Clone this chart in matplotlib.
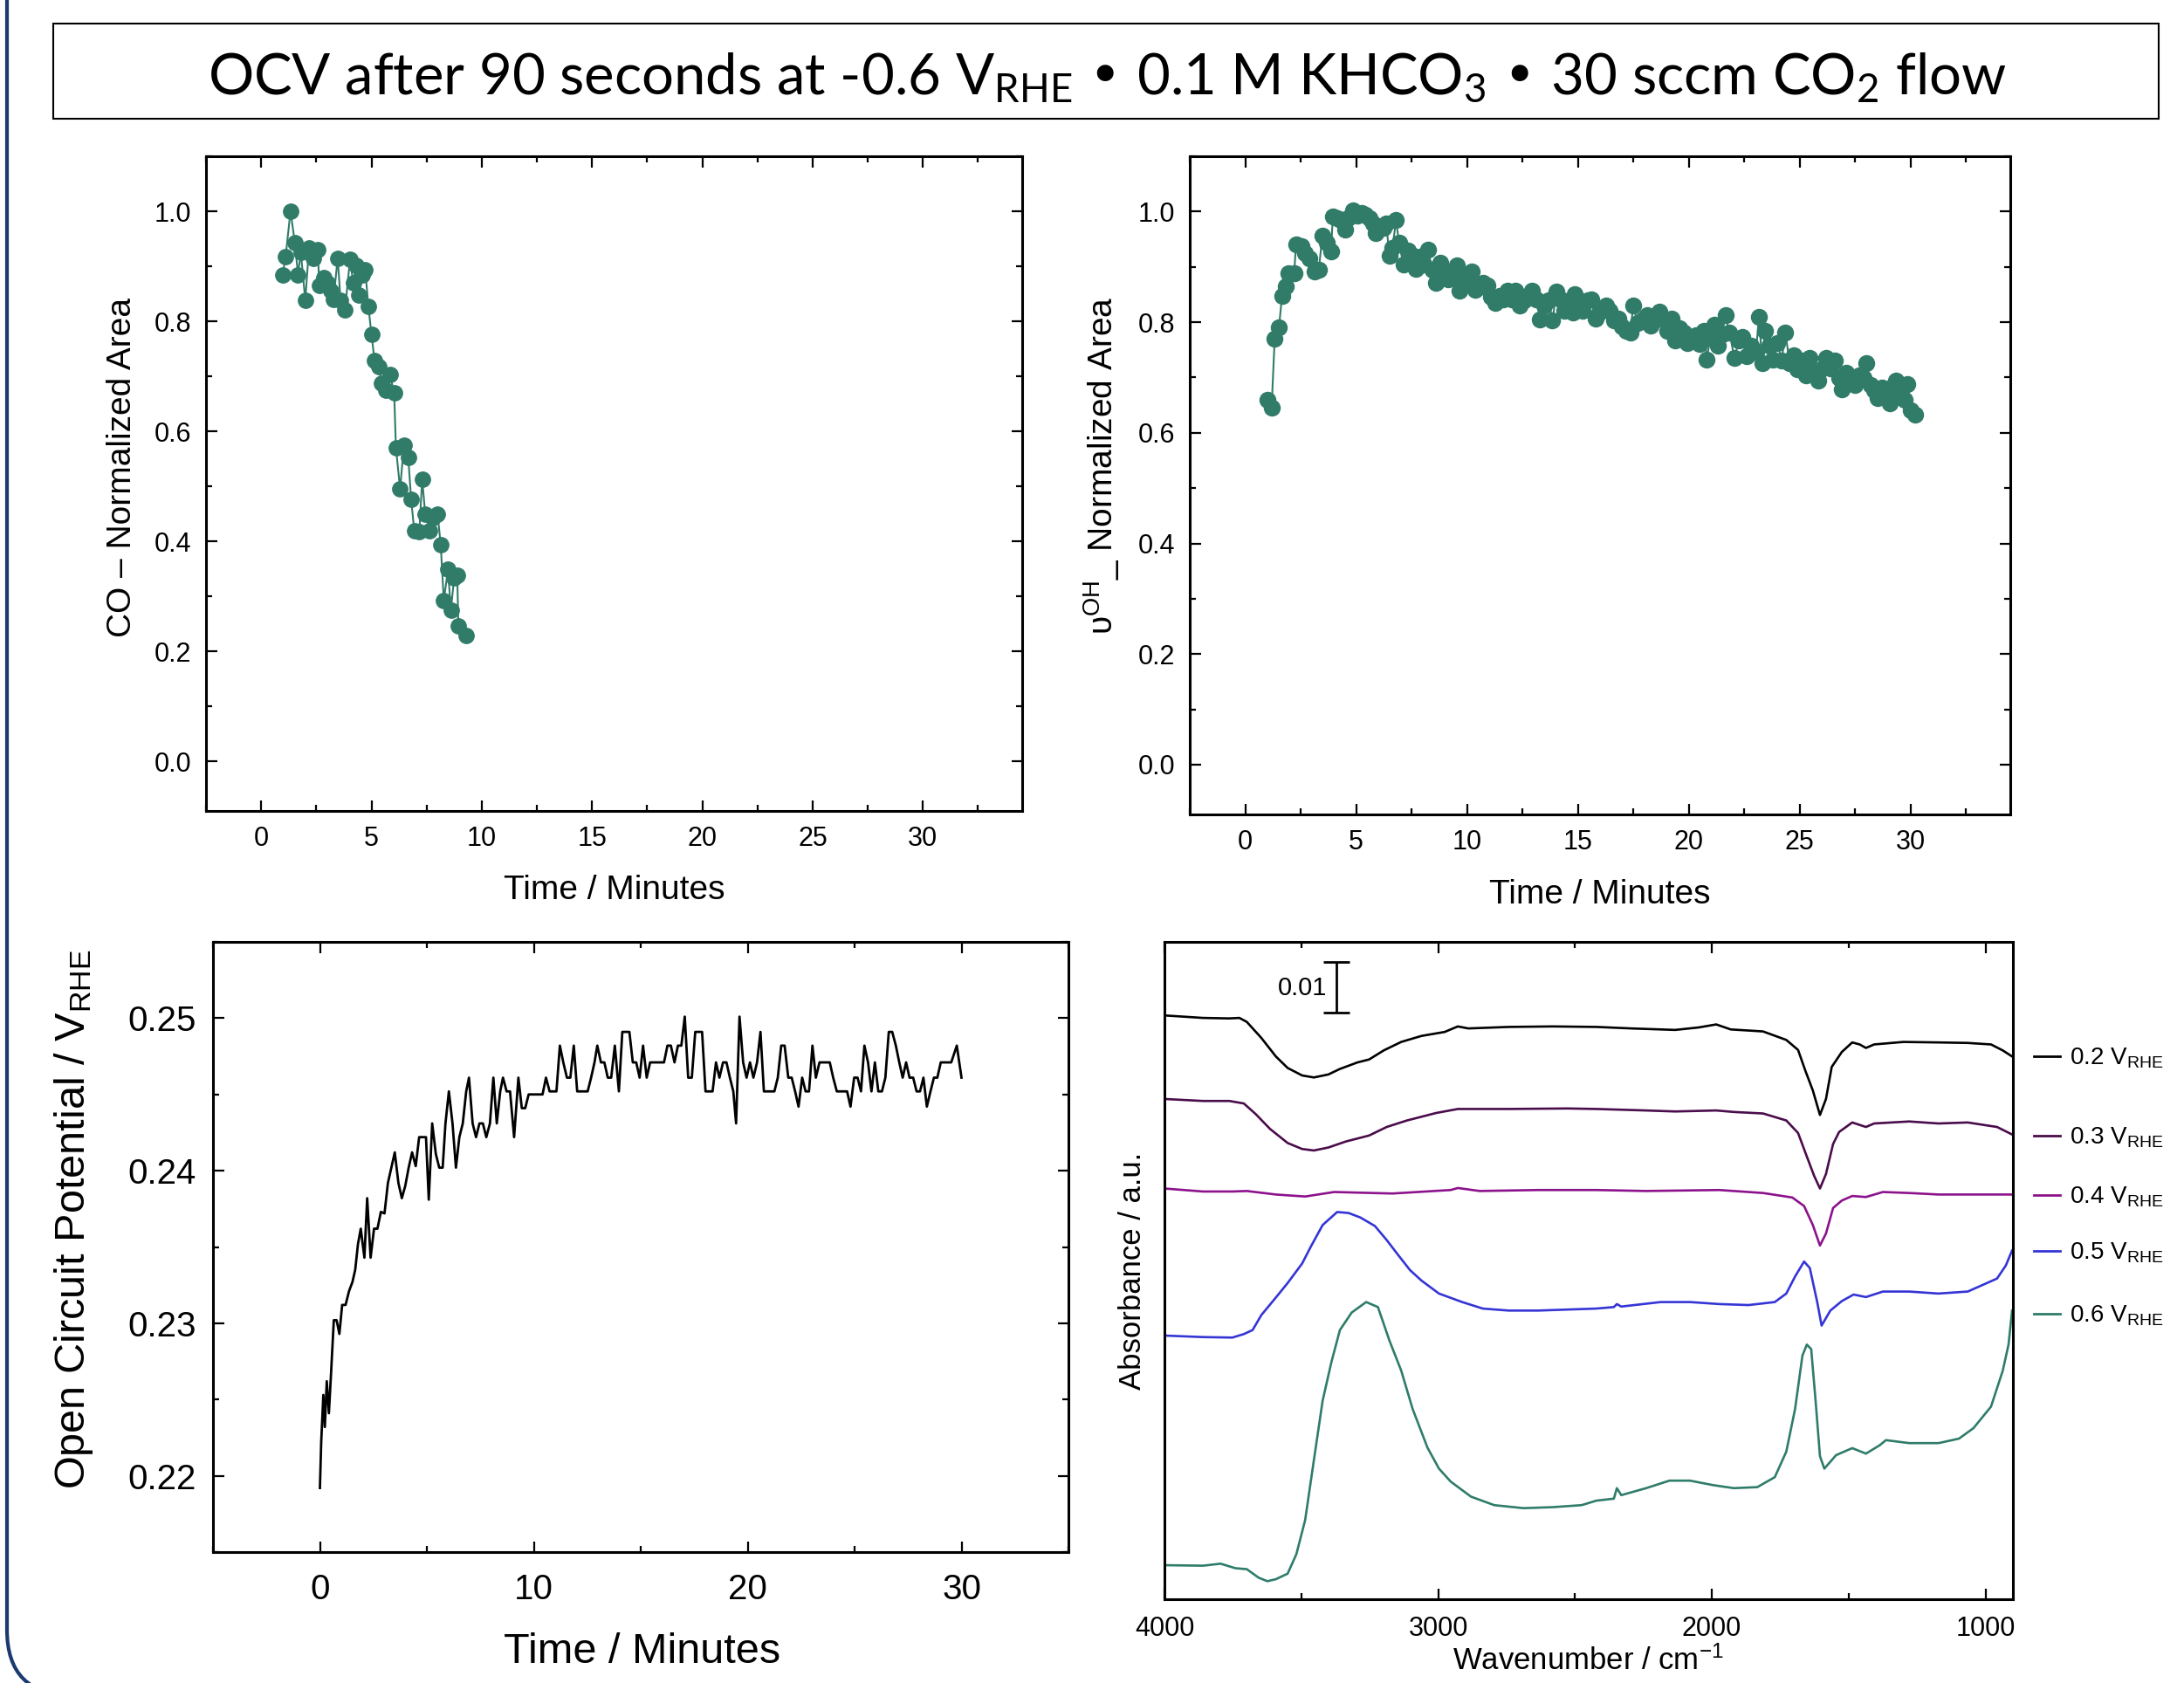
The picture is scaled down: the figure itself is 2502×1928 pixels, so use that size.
import matplotlib
matplotlib.use("Agg")
from matplotlib import pyplot as plt
from matplotlib.patches import Rectangle, FancyBboxPatch
from matplotlib.lines import Line2D
from matplotlib.ticker import MultipleLocator, FormatStrFormatter

plt.rcParams['font.family'] = 'Liberation Sans'
plt.rcParams['mathtext.default'] = 'regular'

# CO band area (top left)
co_time = [0.97, 1.11, 1.33, 1.53, 1.67, 1.80, 2.00, 2.17, 2.36, 2.56, 2.64, 2.83, 3.00, 3.14, 3.28,
           3.47, 3.60, 3.80, 4.03, 4.17, 4.30, 4.44, 4.58, 4.72, 4.86, 5.00, 5.14, 5.33, 5.47, 5.64,
           5.83, 6.03, 6.11, 6.30, 6.47, 6.67, 6.80, 6.94, 7.17, 7.30, 7.44, 7.64, 7.78, 8.00, 8.14,
           8.28, 8.47, 8.60, 8.75, 8.89, 8.94, 9.30]
co_area = [0.884, 0.918, 1.000, 0.943, 0.885, 0.925, 0.838, 0.934, 0.915, 0.931, 0.865, 0.880, 0.870, 0.856, 0.840,
           0.915, 0.838, 0.820, 0.913, 0.870, 0.902, 0.847, 0.884, 0.893, 0.827, 0.777, 0.729, 0.718, 0.688, 0.674,
           0.704, 0.670, 0.570, 0.495, 0.575, 0.552, 0.476, 0.420, 0.418, 0.513, 0.449, 0.420, 0.443, 0.449, 0.394,
           0.293, 0.349, 0.275, 0.334, 0.338, 0.247, 0.229]

# OH band area (top right)
oh_time = [1.00, 1.19, 1.33, 1.52, 1.66, 1.82, 1.96, 2.21, 2.29, 2.52,
           2.71, 2.90, 3.12, 3.32, 3.48, 3.68, 3.87, 3.95, 4.17, 4.31,
           4.51, 4.64, 4.87, 5.06, 5.25, 5.42, 5.61, 5.75, 5.89, 6.03,
           6.22, 6.36, 6.50, 6.64, 6.80, 6.94, 7.13, 7.33, 7.49, 7.69,
           7.88, 8.04, 8.24, 8.43, 8.60, 8.79, 8.99, 9.15, 9.35, 9.54,
           9.68, 9.84, 10.04, 10.23, 10.37, 10.53, 10.73, 10.92, 11.09, 11.28,
           11.47, 11.64, 11.83, 12.03, 12.19, 12.39, 12.58, 12.75, 12.94, 13.13,
           13.30, 13.49, 13.69, 13.85, 14.04, 14.24, 14.40, 14.60, 14.79, 14.87,
           15.07, 15.23, 15.43, 15.62, 15.79, 15.98, 16.26, 16.45, 16.62, 16.81,
           17.00, 17.17, 17.36, 17.50, 17.69, 17.92, 18.11, 18.28, 18.47, 18.66,
           18.83, 19.02, 19.21, 19.38, 19.57, 19.77, 19.93, 20.13, 20.32, 20.49,
           20.68, 20.82, 20.96, 21.15, 21.32, 21.51, 21.65, 21.84, 22.06, 22.26,
           22.42, 22.62, 22.81, 23.03, 23.17, 23.31, 23.44, 23.64, 23.80, 24.00,
           24.19, 24.36, 24.55, 24.74, 24.91, 25.10, 25.30, 25.46, 25.65, 25.85,
           26.02, 26.21, 26.40, 26.57, 26.77, 26.90, 27.10, 27.32, 27.51, 27.68,
           27.87, 28.01, 28.20, 28.37, 28.50, 28.70, 28.89, 29.06, 29.25, 29.33,
           29.53, 29.72, 29.86, 30.00, 30.22]
oh_area = [0.660, 0.645, 0.770, 0.790, 0.847, 0.865, 0.889, 0.889, 0.941, 0.938,
           0.925, 0.916, 0.891, 0.895, 0.957, 0.943, 0.928, 0.991, 0.988, 0.984,
           0.967, 0.988, 1.002, 0.993, 0.997, 0.995, 0.988, 0.979, 0.961, 0.972,
           0.970, 0.979, 0.920, 0.934, 0.984, 0.943, 0.904, 0.930, 0.921, 0.897,
           0.918, 0.904, 0.931, 0.895, 0.871, 0.907, 0.891, 0.877, 0.884, 0.902,
           0.857, 0.880, 0.871, 0.891, 0.859, 0.864, 0.871, 0.866, 0.846, 0.835,
           0.848, 0.841, 0.857, 0.841, 0.857, 0.830, 0.839, 0.848, 0.857, 0.841,
           0.805, 0.830, 0.839, 0.803, 0.855, 0.841, 0.821, 0.835, 0.817, 0.850,
           0.835, 0.821, 0.839, 0.841, 0.807, 0.817, 0.830, 0.821, 0.803, 0.807,
           0.792, 0.785, 0.781, 0.830, 0.798, 0.805, 0.812, 0.794, 0.810, 0.819,
           0.805, 0.785, 0.807, 0.767, 0.789, 0.781, 0.762, 0.771, 0.776, 0.760,
           0.785, 0.733, 0.771, 0.795, 0.758, 0.778, 0.812, 0.781, 0.735, 0.767,
           0.774, 0.738, 0.758, 0.747, 0.810, 0.726, 0.785, 0.758, 0.733, 0.762,
           0.731, 0.781, 0.726, 0.740, 0.715, 0.731, 0.704, 0.735, 0.708, 0.695,
           0.717, 0.735, 0.717, 0.731, 0.699, 0.678, 0.708, 0.695, 0.686, 0.704,
           0.699, 0.726, 0.686, 0.677, 0.663, 0.681, 0.668, 0.654, 0.686, 0.695,
           0.672, 0.659, 0.688, 0.640, 0.633]

# open circuit potential (bottom left)
ocp_time = [0.00, 0.06, 0.16, 0.23, 0.32, 0.42, 0.52, 0.65, 0.78, 0.91,
            1.04, 1.20, 1.36, 1.52, 1.65, 1.78, 1.91, 2.08, 2.21, 2.37,
            2.53, 2.69, 2.85, 3.02, 3.18, 3.34, 3.50, 3.67, 3.83, 3.99,
            4.15, 4.31, 4.48, 4.64, 4.80, 4.96, 5.09, 5.25, 5.42, 5.58,
            5.74, 5.87, 6.03, 6.20, 6.36, 6.52, 6.68, 6.84, 6.97, 7.14,
            7.30, 7.46, 7.62, 7.78, 7.95, 8.11, 8.27, 8.43, 8.56, 8.73,
            8.89, 9.08, 9.28, 9.44, 9.60, 9.76, 9.92, 10.09, 10.25, 10.41,
            10.57, 10.74, 10.90, 11.06, 11.22, 11.38, 11.55, 11.71, 11.87, 12.03,
            12.20, 12.36, 12.52, 12.68, 12.84, 12.97, 13.14, 13.30, 13.46, 13.62,
            13.79, 13.98, 14.14, 14.30, 14.47, 14.63, 14.79, 14.95, 15.11, 15.28,
            15.44, 15.60, 15.76, 15.93, 16.09, 16.25, 16.41, 16.58, 16.74, 16.90,
            17.06, 17.22, 17.39, 17.55, 17.71, 17.87, 18.03, 18.20, 18.36, 18.52,
            18.68, 18.85, 19.01, 19.17, 19.33, 19.46, 19.62, 19.79, 19.95, 20.11,
            20.27, 20.44, 20.60, 20.76, 20.92, 21.08, 21.25, 21.41, 21.57, 21.73,
            21.90, 22.06, 22.22, 22.38, 22.55, 22.71, 22.87, 23.03, 23.19, 23.36,
            23.52, 23.68, 23.84, 24.00, 24.17, 24.33, 24.49, 24.65, 24.81, 24.98,
            25.14, 25.30, 25.46, 25.63, 25.79, 25.95, 26.11, 26.28, 26.44, 26.60,
            26.76, 26.93, 27.09, 27.25, 27.41, 27.57, 27.74, 27.90, 28.06, 28.22,
            28.38, 28.55, 28.71, 28.87, 29.03, 29.20, 29.36, 29.52, 29.78, 30.00]
ocp_volt = [0.2192, 0.2222, 0.2253, 0.2232, 0.2262, 0.2241, 0.2267, 0.2302, 0.2302, 0.2293,
            0.2312, 0.2312, 0.2321, 0.2327, 0.2335, 0.2352, 0.2362, 0.2343, 0.2382, 0.2343,
            0.2362, 0.2362, 0.2373, 0.2372, 0.2392, 0.2402, 0.2412, 0.2392, 0.2382, 0.2390,
            0.2402, 0.2412, 0.2403, 0.2422, 0.2422, 0.2422, 0.2381, 0.2431, 0.2411, 0.2402,
            0.2402, 0.2431, 0.2452, 0.2431, 0.2402, 0.2422, 0.2431, 0.2452, 0.2461, 0.2431,
            0.2422, 0.2431, 0.2431, 0.2422, 0.2431, 0.2461, 0.2431, 0.2452, 0.2461, 0.2452,
            0.2452, 0.2422, 0.2461, 0.2441, 0.2441, 0.2450, 0.2450, 0.2450, 0.2450, 0.2450,
            0.2461, 0.2452, 0.2452, 0.2452, 0.2482, 0.2471, 0.2461, 0.2461, 0.2482, 0.2452,
            0.2452, 0.2452, 0.2452, 0.2461, 0.2471, 0.2482, 0.2471, 0.2471, 0.2461, 0.2461,
            0.2482, 0.2452, 0.2491, 0.2491, 0.2491, 0.2471, 0.2471, 0.2461, 0.2482, 0.2461,
            0.2471, 0.2471, 0.2471, 0.2471, 0.2471, 0.2482, 0.2482, 0.2471, 0.2482, 0.2482,
            0.2501, 0.2461, 0.2461, 0.2491, 0.2491, 0.2491, 0.2452, 0.2452, 0.2452, 0.2471,
            0.2461, 0.2471, 0.2471, 0.2461, 0.2452, 0.2431, 0.2501, 0.2471, 0.2461, 0.2471,
            0.2461, 0.2471, 0.2491, 0.2452, 0.2452, 0.2452, 0.2452, 0.2461, 0.2482, 0.2482,
            0.2461, 0.2461, 0.2452, 0.2442, 0.2461, 0.2452, 0.2452, 0.2482, 0.2461, 0.2471,
            0.2471, 0.2471, 0.2471, 0.2461, 0.2452, 0.2452, 0.2452, 0.2452, 0.2442, 0.2461,
            0.2461, 0.2452, 0.2482, 0.2471, 0.2452, 0.2471, 0.2452, 0.2452, 0.2461, 0.2491,
            0.2491, 0.2482, 0.2471, 0.2461, 0.2471, 0.2461, 0.2461, 0.2452, 0.2452, 0.2461,
            0.2442, 0.2452, 0.2461, 0.2461, 0.2471, 0.2471, 0.2471, 0.2471, 0.2482, 0.2461]

# IR spectra (bottom right), stacked absorbance
wn_02 = [4000, 3859, 3763, 3726, 3699, 3646, 3593, 3550, 3497, 3454, 3401, 3359, 3295, 3252, 3199, 3135,
         3061, 2976, 2928, 2890, 2742, 2582, 2422, 2294, 2134, 2048, 1984, 1931, 1813, 1728, 1685, 1658,
         1631, 1605, 1583, 1562, 1546, 1525, 1487, 1460, 1437, 1407, 1300, 1172, 1065, 980, 937, 903]
abs_02 = [0.1167, 0.1162, 0.1161, 0.1162, 0.1154, 0.1122, 0.1085, 0.1062, 0.1047, 0.1043, 0.1049, 0.1060,
          0.1073, 0.1079, 0.1097, 0.1114, 0.1126, 0.1134, 0.1145, 0.1141, 0.1144, 0.1145, 0.1144, 0.1141,
          0.1138, 0.1143, 0.1149, 0.1139, 0.1135, 0.1118, 0.1098, 0.1056, 0.1017, 0.0968, 0.1000, 0.1064,
          0.1077, 0.1094, 0.1113, 0.1109, 0.1102, 0.1109, 0.1114, 0.1113, 0.1112, 0.1109, 0.1097, 0.1085]

wn_03 = [4000, 3859, 3763, 3710, 3667, 3614, 3550, 3497, 3454, 3401, 3337, 3252, 3188, 3114, 3007, 2928,
         2742, 2529, 2422, 2240, 2134, 1984, 1920, 1813, 1728, 1685, 1653, 1626, 1605, 1583, 1557, 1535,
         1487, 1437, 1407, 1279, 1172, 1065, 958, 903]
abs_03 = [0.1000, 0.0996, 0.0996, 0.0991, 0.0970, 0.0940, 0.0912, 0.0900, 0.0897, 0.0903, 0.0915, 0.0927,
          0.0944, 0.0957, 0.0972, 0.0980, 0.0980, 0.0981, 0.0980, 0.0977, 0.0975, 0.0977, 0.0974, 0.0971,
          0.0957, 0.0932, 0.0885, 0.0846, 0.0821, 0.0850, 0.0910, 0.0934, 0.0953, 0.0944, 0.0951, 0.0955,
          0.0951, 0.0953, 0.0944, 0.0929]

wn_04 = [4000, 3859, 3752, 3699, 3593, 3486, 3380, 3167, 2954, 2928, 2848, 2635, 2422, 2240, 1973, 1813,
         1706, 1663, 1631, 1605, 1583, 1557, 1525, 1487, 1437, 1375, 1279, 1172, 1065, 903]
abs_04 = [0.0821, 0.0815, 0.0815, 0.0816, 0.0809, 0.0805, 0.0814, 0.0811, 0.0818, 0.0822, 0.0816, 0.0818,
          0.0818, 0.0816, 0.0818, 0.0812, 0.0803, 0.0786, 0.0748, 0.0707, 0.0731, 0.0782, 0.0797, 0.0806,
          0.0804, 0.0814, 0.0812, 0.0809, 0.0809, 0.0809]

wn_05 = [4000, 3859, 3752, 3710, 3678, 3646, 3593, 3550, 3497, 3465, 3422, 3369, 3327, 3284, 3231, 3188,
         3146, 3103, 3061, 2997, 2912, 2837, 2742, 2635, 2529, 2422, 2358, 2347, 2331, 2187, 2080, 1973,
         1866, 1770, 1728, 1696, 1663, 1642, 1615, 1599, 1567, 1525, 1482, 1437, 1375, 1279, 1172, 1065,
         958, 926, 903]
abs_05 = [0.0527, 0.0524, 0.0523, 0.0530, 0.0538, 0.0568, 0.0603, 0.0632, 0.0671, 0.0705, 0.0748, 0.0774,
          0.0772, 0.0763, 0.0746, 0.0718, 0.0688, 0.0658, 0.0637, 0.0611, 0.0594, 0.0581, 0.0577, 0.0577,
          0.0579, 0.0581, 0.0584, 0.0590, 0.0585, 0.0594, 0.0594, 0.0590, 0.0588, 0.0594, 0.0611, 0.0645,
          0.0675, 0.0662, 0.0594, 0.0547, 0.0577, 0.0596, 0.0609, 0.0604, 0.0615, 0.0615, 0.0611, 0.0615,
          0.0641, 0.0667, 0.0697]

wn_06 = [4000, 3859, 3795, 3741, 3699, 3656, 3624, 3593, 3550, 3518, 3486, 3454, 3422, 3390, 3359, 3316,
         3263, 3220, 3178, 3135, 3093, 3039, 2997, 2954, 2880, 2795, 2688, 2582, 2476, 2422, 2358, 2347,
         2331, 2240, 2155, 2080, 1995, 1920, 1834, 1770, 1728, 1696, 1669, 1653, 1637, 1621, 1605, 1589,
         1546, 1487, 1437, 1386, 1364, 1279, 1172, 1097, 1044, 980, 937, 916, 903]
abs_06 = [0.0068, 0.0067, 0.0071, 0.0062, 0.0060, 0.0043, 0.0036, 0.0040, 0.0051, 0.0090, 0.0158, 0.0278,
          0.0397, 0.0474, 0.0538, 0.0573, 0.0594, 0.0584, 0.0517, 0.0457, 0.0380, 0.0303, 0.0261, 0.0235,
          0.0205, 0.0188, 0.0182, 0.0184, 0.0188, 0.0197, 0.0201, 0.0222, 0.0208, 0.0222, 0.0237, 0.0237,
          0.0228, 0.0222, 0.0224, 0.0244, 0.0295, 0.0380, 0.0487, 0.0509, 0.0500, 0.0397, 0.0286, 0.0261,
          0.0288, 0.0302, 0.0291, 0.0308, 0.0318, 0.0312, 0.0312, 0.0321, 0.0342, 0.0385, 0.0457, 0.0509,
          0.0577]

spec_labels = ["0.2 V$_{RHE}$", "0.3 V$_{RHE}$", "0.4 V$_{RHE}$", "0.5 V$_{RHE}$", "0.6 V$_{RHE}$"]
spec_colors = ["black", "#4a0c4a", "#8c128c", "#3535d6", "#2f7c6a"]

TEAL = "#317b69"
W, H = 2502, 1928


def style_axes(ax, fs, pad):
    ax.tick_params(which='both', direction='in', top=True, right=True, labelsize=fs, width=1.6, pad=pad)
    ax.tick_params(which='major', length=9)
    ax.tick_params(which='minor', length=5)
    for s in ax.spines.values():
        s.set_linewidth(2.2)


fig = plt.figure(figsize=(W / 100, H / 100), dpi=100)

# slide frame on the left edge (rounded corner at the bottom)
frame = FancyBboxPatch((0.08, -0.14), 40, 40, boxstyle="round,pad=0,rounding_size=0.75",
                       transform=fig.dpi_scale_trans, fill=False, edgecolor='#1b3a6f', linewidth=3)
fig.add_artist(frame)

# title box
fig.add_artist(Rectangle((61 / W, 1 - 136 / H), 2412 / W, 109 / H, transform=fig.transFigure,
                         fill=False, edgecolor='black', linewidth=1.5))
fig.text(0.507, 1 - 108 / H,
         "OCV after 90 seconds at -0.6 V$_{RHE}$ \u2022 0.1 M KHCO$_3$ \u2022 30 sccm CO$_2$ flow",
         ha='center', va='baseline', fontsize=47, family='Lato')

# top left: CO
ax1 = fig.add_axes([236 / W, 1 - 929 / H, 935 / W, 750 / H])
ax1.plot(co_time, co_area, '-o', color=TEAL, ms=12.5, lw=1.5)
ax1.set_xlim(-2.5, 34.5)
ax1.set_ylim(-0.09, 1.1)
ax1.xaxis.set_major_locator(MultipleLocator(5))
ax1.xaxis.set_minor_locator(MultipleLocator(2.5))
ax1.yaxis.set_major_locator(MultipleLocator(0.2))
ax1.yaxis.set_minor_locator(MultipleLocator(0.1))
ax1.yaxis.set_major_formatter(FormatStrFormatter('%.1f'))
style_axes(ax1, 22, 12)
ax1.set_xlabel("Time / Minutes", fontsize=28)
ax1.set_ylabel("CO \u2013 Normalized Area", fontsize=28)
ax1.xaxis.set_label_coords(0.5, -0.097)
ax1.yaxis.set_label_coords(-0.083, 0.525)

# top right: OH
ax2 = fig.add_axes([1363 / W, 1 - 933 / H, 940 / W, 754 / H])
ax2.plot(oh_time, oh_area, '-o', color=TEAL, ms=13, lw=1.5)
ax2.set_xlim(-2.5, 34.5)
ax2.set_ylim(-0.09, 1.1)
ax2.xaxis.set_major_locator(MultipleLocator(5))
ax2.xaxis.set_minor_locator(MultipleLocator(2.5))
ax2.yaxis.set_major_locator(MultipleLocator(0.2))
ax2.yaxis.set_minor_locator(MultipleLocator(0.1))
ax2.yaxis.set_major_formatter(FormatStrFormatter('%.1f'))
style_axes(ax2, 22, 12)
ax2.set_xlabel("Time / Minutes", fontsize=28)
ax2.set_ylabel("\u03c5$^{OH}$_ Normalized Area", fontsize=28)
ax2.xaxis.set_label_coords(0.5, -0.098)
ax2.yaxis.set_label_coords(-0.083, 0.53)

# bottom left: OCP
ax3 = fig.add_axes([244 / W, 1 - 1778 / H, 980 / W, 699 / H])
ax3.plot(ocp_time, ocp_volt, color='black', lw=2)
ax3.set_xlim(-5, 35)
ax3.set_ylim(0.215, 0.255)
ax3.xaxis.set_major_locator(MultipleLocator(10))
ax3.xaxis.set_minor_locator(MultipleLocator(5))
ax3.yaxis.set_major_locator(MultipleLocator(0.01))
ax3.yaxis.set_minor_locator(MultipleLocator(0.005))
ax3.yaxis.set_major_formatter(FormatStrFormatter('%.2f'))
style_axes(ax3, 29, 14)
ax3.tick_params(axis='x', pad=17)
ax3.set_xlabel("Time / Minutes", fontsize=35)
ax3.set_ylabel("Open Circuit Potential / V$_{RHE}$", fontsize=35)
ax3.xaxis.set_label_coords(0.502, -0.132)
ax3.yaxis.set_label_coords(-0.138, 0.545)

# bottom right: spectra
ax4 = fig.add_axes([1334 / W, 1 - 1832 / H, 972 / W, 753 / H])
spectra = [(wn_02, abs_02), (wn_03, abs_03), (wn_04, abs_04), (wn_05, abs_05), (wn_06, abs_06)]
for (wn, ab), col in zip(spectra, spec_colors):
    ax4.plot(wn, ab, color=col, lw=1.9)
ax4.set_xlim(4000, 900)
ax4.set_ylim(0, 0.1314)
ax4.xaxis.set_major_locator(MultipleLocator(1000))
ax4.xaxis.set_minor_locator(MultipleLocator(500))
style_axes(ax4, 22, 14)
ax4.tick_params(axis='y', which='both', left=False, right=False, labelleft=False)
ax4.set_xlabel("Wavenumber / cm$^{-1}$", fontsize=25)
ax4.set_ylabel("Absorbance / a.u.", fontsize=25)
ax4.xaxis.set_label_coords(0.499, -0.071)
ax4.yaxis.set_label_coords(-0.021, 0.5)

# 0.01 scale bar
ax4.errorbar(3372, 0.1223, yerr=0.005, color='black', capsize=11, elinewidth=2, capthick=2)
ax4.text(3405, 0.1222, "0.01", ha='right', va='center', fontsize=21)

# labels next to the curves, outside the axes
label_y = [0.826, 0.705, 0.615, 0.530, 0.434]
for y, col, lab in zip(label_y, spec_colors, spec_labels):
    ax4.add_line(Line2D([1.025, 1.0555], [y, y], color=col, lw=2, transform=ax4.transAxes, clip_on=False))
    ax4.text(1.067, y - 0.013, lab, transform=ax4.transAxes, ha='left', va='baseline', fontsize=20)

fig.savefig("out.png", dpi=100)
